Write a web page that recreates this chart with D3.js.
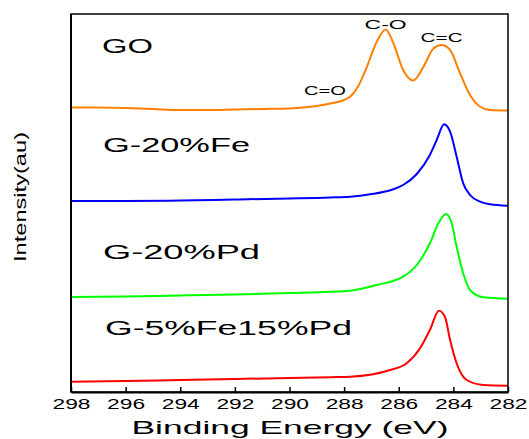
<!DOCTYPE html>
<html>
<head>
<meta charset="utf-8">
<script src="https://cdn.jsdelivr.net/npm/d3@7"></script>
<style>
  body { margin: 0; background: #fff; }
  text { font-family: Arial, "Liberation Sans", sans-serif; fill: #000; }
</style>
</head>
<body>
<div id="chart"></div>
<script>
// binding energy (eV) and stacked intensity (au)
const goEnergy = [298, 297, 296, 295, 294, 293, 292, 291, 290, 289, 288.5, 288, 287.75, 287.5, 287.17, 286.81, 286.48, 286.2, 285.84, 285.47, 285.1, 284.73, 284.43, 284.12, 283.76, 283.39, 283.03, 282.66, 282];
const goIntensity = [284.5, 284.5, 284, 283, 282, 282, 282.5, 283, 283.5, 286, 288.5, 292, 296, 305, 325, 350, 362.5, 349, 322, 311.5, 325, 343.5, 347, 342, 319, 297, 285.5, 282, 281.5];

const feEnergy = [298, 296, 294, 292, 290, 288.5, 287.78, 287.05, 286.2, 285.84, 285.34, 284.86, 284.61, 284.34, 284.12, 283.88, 283.64, 283.39, 283.02, 282.66, 282];
const feIntensity = [191, 191, 191.5, 192.5, 193.5, 194.5, 195.3, 197.7, 202.7, 207, 218, 237, 252, 267.7, 260.3, 235.3, 208.7, 197, 190.3, 187.7, 186.3];

const pdEnergy = [298, 296, 294, 292, 290, 288.5, 287.78, 286.81, 285.84, 285.34, 284.86, 284.55, 284.27, 284.06, 283.88, 283.64, 283.39, 282.9, 282];
const pdIntensity = [95, 95.5, 96.5, 97.5, 99, 100.3, 101.3, 107, 115.3, 127, 148.7, 168.7, 178, 168.7, 145.3, 118.7, 102, 94.7, 93.3];

const fePdEnergy = [298, 296, 294, 292, 290, 288.5, 287.78, 286.32, 285.71, 285.22, 284.86, 284.53, 284.31, 284.12, 283.88, 283.51, 282.9, 282];
const fePdIntensity = [10.3, 11, 12, 13, 14, 14.8, 15.3, 22, 28.7, 43.7, 62, 81.3, 75.3, 52, 28.7, 12, 7, 6.3];

const seriesNames = ["GO", "G-20%Fe", "G-20%Pd", "G-5%Fe15%Pd"];
const seriesColors = ["#ff8000", "#0000ff", "#00ff00", "#ff0000"];
const xTicks = [298, 296, 294, 292, 290, 288, 286, 284, 282];

const peakLabels = ["C=O", "C-O", "C=C"];
const peakEnergy = [288.7, 286.48, 284.43];

const width = 529, height = 439;
const margin = { top: 14, right: 21, bottom: 47, left: 71 };

const svg = d3.select("#chart")
  .append("svg")
  .attr("width", width)
  .attr("height", height);

const x = d3.scaleLinear()
  .domain([298, 282])
  .range([margin.left, width - margin.right]);

const y = d3.scaleLinear()
  .domain([0, 378])
  .range([height - margin.bottom, margin.top]);

const series = [
  { name: seriesNames[0], color: seriesColors[0], e: goEnergy, v: goIntensity },
  { name: seriesNames[1], color: seriesColors[1], e: feEnergy, v: feIntensity },
  { name: seriesNames[2], color: seriesColors[2], e: pdEnergy, v: pdIntensity },
  { name: seriesNames[3], color: seriesColors[3], e: fePdEnergy, v: fePdIntensity }
];

const line = d3.line()
  .x(d => x(d[0]))
  .y(d => y(d[1]))
  .curve(d3.curveMonotoneX);

svg.selectAll(".spectrum")
  .data(series)
  .join("path")
  .attr("class", "spectrum")
  .attr("fill", "none")
  .attr("stroke", d => d.color)
  .attr("stroke-width", 2)
  .attr("d", d => line(d.e.map((e, i) => [e, d.v[i]])));

// frame
svg.append("rect")
  .attr("x", margin.left)
  .attr("y", margin.top)
  .attr("width", width - margin.left - margin.right)
  .attr("height", height - margin.top - margin.bottom)
  .attr("fill", "none")
  .attr("stroke", "#000")
  .attr("stroke-width", 1.5);

svg.append("line")
  .attr("x1", margin.left).attr("x2", margin.left)
  .attr("y1", margin.top).attr("y2", height - margin.bottom)
  .attr("stroke", "#000").attr("stroke-width", 2);

// x axis, ticks pointing in
const xAxis = d3.axisBottom(x)
  .tickValues(xTicks)
  .tickSizeInner(-5)
  .tickSizeOuter(0)
  .tickPadding(7)
  .tickFormat(d3.format("d"));

const gx = svg.append("g")
  .attr("transform", `translate(0, ${height - margin.bottom})`)
  .call(xAxis);
gx.select(".domain").attr("stroke-width", 2);
gx.selectAll(".tick line").attr("stroke-width", 1.5);
gx.selectAll(".tick text")
  .attr("font-size", 14)
  .attr("font-family", "Arial, 'Liberation Sans', sans-serif")
  .attr("textLength", 38)
  .attr("lengthAdjust", "spacingAndGlyphs");

// axis titles
svg.append("text")
  .attr("x", 290)
  .attr("y", 434)
  .attr("text-anchor", "middle")
  .attr("font-size", 19)
  .attr("textLength", 317)
  .attr("lengthAdjust", "spacingAndGlyphs")
  .text("Binding Energy (eV)");

svg.append("text")
  .attr("transform", "translate(26, 197) rotate(-90)")
  .attr("text-anchor", "middle")
  .attr("font-size", 17)
  .attr("textLength", 130)
  .attr("lengthAdjust", "spacingAndGlyphs")
  .text("Intensity(au)");

// sample labels
const labelPos = [
  { x: 102, y: 53, len: 51 },
  { x: 103, y: 152, len: 147 },
  { x: 103, y: 259, len: 157 },
  { x: 105, y: 335, len: 247 }
];
svg.selectAll(".sample-label")
  .data(series)
  .join("text")
  .attr("class", "sample-label")
  .attr("x", (d, i) => labelPos[i].x)
  .attr("y", (d, i) => labelPos[i].y)
  .attr("font-size", 20)
  .attr("textLength", (d, i) => labelPos[i].len)
  .attr("lengthAdjust", "spacingAndGlyphs")
  .text(d => d.name);

// peak annotations on GO
const peakY = [95, 29, 41.5];
svg.selectAll(".peak-label")
  .data(peakLabels)
  .join("text")
  .attr("class", "peak-label")
  .attr("x", (d, i) => x(peakEnergy[i]))
  .attr("y", (d, i) => peakY[i])
  .attr("text-anchor", "middle")
  .attr("font-size", 12)
  .attr("textLength", 42)
  .attr("lengthAdjust", "spacingAndGlyphs")
  .text(d => d);
</script>
</body>
</html>
